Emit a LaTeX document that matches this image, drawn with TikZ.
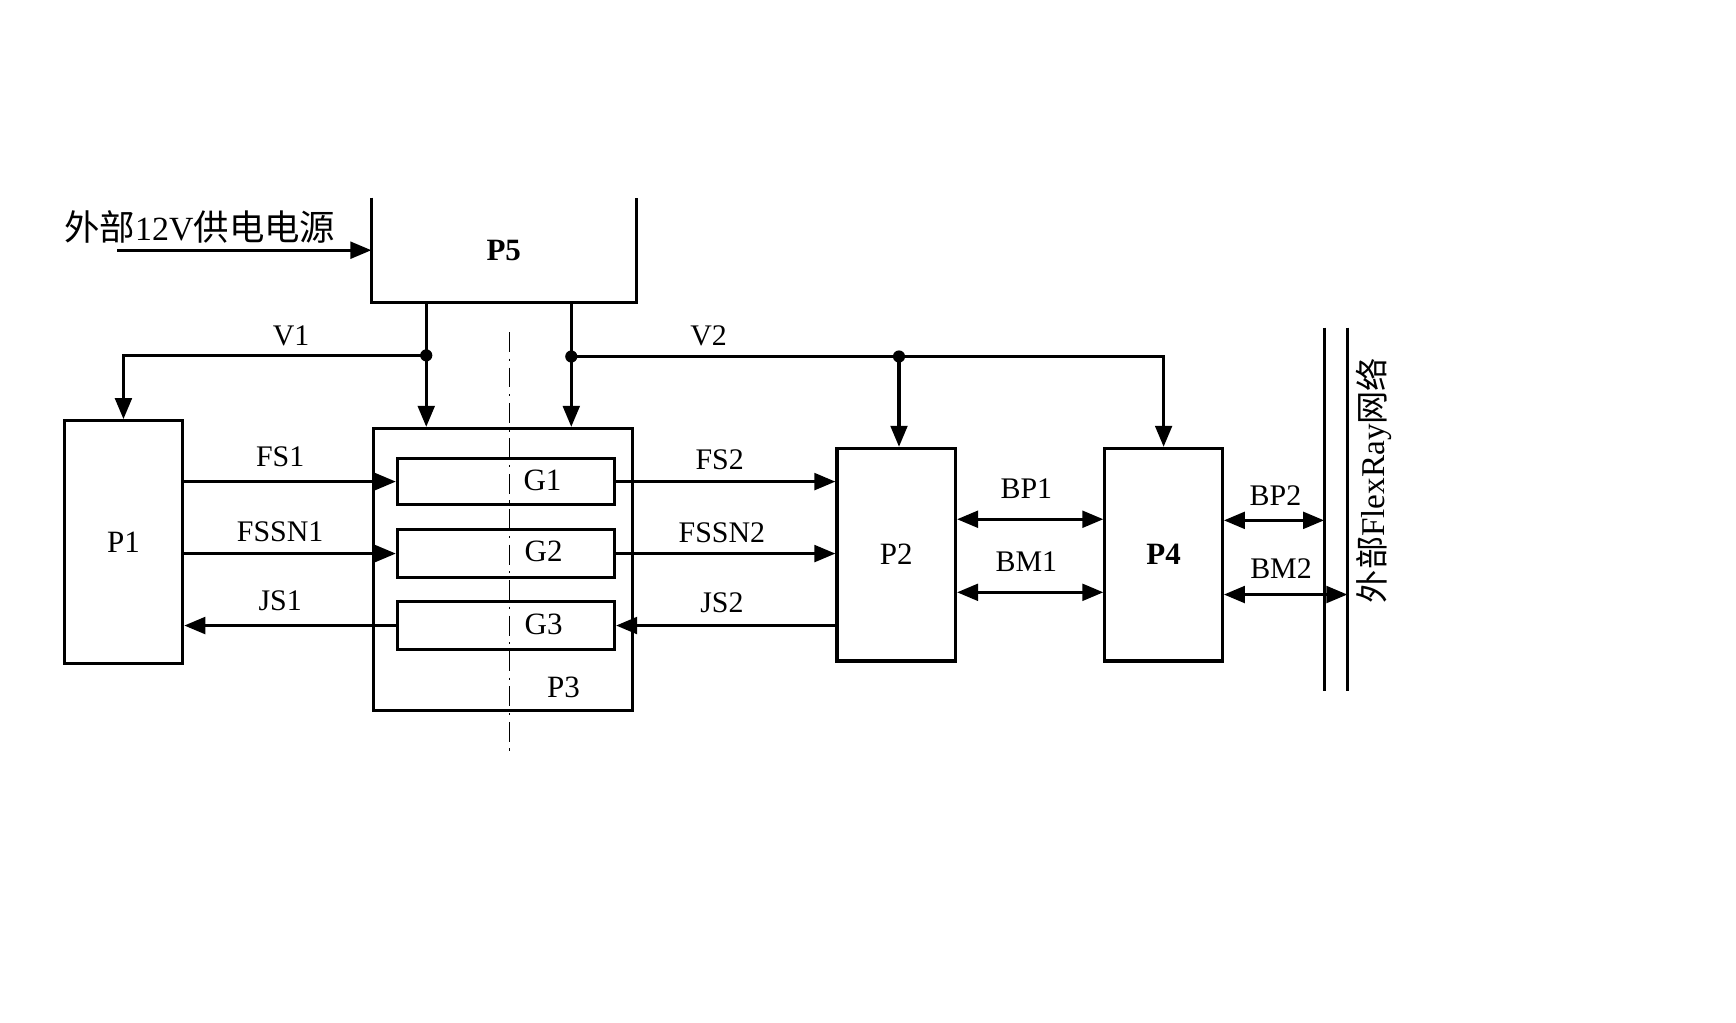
\documentclass[tikz,border=0pt]{standalone}
\usepackage{fontspec}
\setmainfont{Liberation Serif}
\newfontfamily\cjk{Noto Sans CJK SC}
\usetikzlibrary{arrows.meta}
\begin{document}
\begin{tikzpicture}[x=0.5pt,y=-0.5pt,
  line width=1.5pt,
  box/.style={draw, line width=1.4pt, inner sep=0pt, font=\fontsize{14}{16}\selectfont},
  arr/.style={-{Triangle[length=9.5pt,width=7.5pt]}},
  dbl/.style={{Triangle[length=9.5pt,width=7.5pt]}-{Triangle[length=9.5pt,width=7.5pt]}},
  lbl/.style={font=\fontsize{13.5}{16}\selectfont, inner sep=1pt},
  blbl/.style={font=\fontsize{14}{16}\selectfont, inner sep=1pt},
  jdot/.style={circle, fill, inner sep=0pt, minimum size=5.5pt},
  axis/.style={line width=0.6pt, dash pattern=on 9pt off 3pt on 1pt off 3pt}]
\path[fill=white, use as bounding box] (0,0) rectangle (1568,924);

% blocks
\node[box, minimum width=53.5pt, minimum height=109.5pt] (p1) at (111.5,489.5) {P1};
\node[box, minimum width=117pt, minimum height=127.5pt] (p3) at (454,514.5) {};
\node[blbl] (p3t) at (509,621) {P3};
\node[box, minimum width=98pt, minimum height=21pt] (g1) at (457,435) {};
\node[box, minimum width=98pt, minimum height=22pt] (g2) at (457,500) {};
\node[box, minimum width=98pt, minimum height=22pt] (g3) at (457,565) {};
\node[blbl] (g1t) at (490,434) {G1};
\node[blbl] (g2t) at (491,498) {G2};
\node[blbl] (g3t) at (491,564) {G3};
\node[box, minimum width=53.5pt, minimum height=96pt] (p2) at (809.5,501) {P2};
\node[box, minimum width=53pt, minimum height=96pt] (p4) at (1051,501) {\bfseries P4};
\node[inner sep=0pt, minimum width=118pt, minimum height=46pt, font=\fontsize{14}{16}\selectfont\bfseries] (p5) at (455,226) {P5};
\draw[line width=1.4pt] (p5.north west) -- (p5.south west) -- (p5.south east) -- (p5.north east);

% symmetry axis
\coordinate (axt) at (460,300);
\coordinate (axb) at (460,683);
\draw[axis] (axt) -- (axb);

% power input
\node[inner sep=0pt] (pwr) at (180.5,205) {\fontsize{16}{20}\selectfont\cjk 外部{\fontspec{Liberation Serif}\fontsize{15.3}{20}\selectfont 12V}供电电源};
\coordinate (pin) at (106,226);
\draw[arr] (pin) -- (p5.west);

% power distribution
\coordinate (j1) at (385,321);
\coordinate (j2) at (516,322);
\coordinate (j3) at (812,322);
\draw[arr] (p5.south -| j1) -- (j1 |- p3.north);
\draw[arr] (p5.south -| j2) -- (j2 |- p3.north);
\draw[arr] (j1) -| (p1.north);
\draw (j2) -- (j3);
\draw[arr] (j3) -| (p4.north);
\draw[arr] (j3) -- (j3 |- p2.north);
\node[jdot] (d1) at (j1) {};
\node[jdot] (d2) at (j2) {};
\node[jdot] (d3) at (j3) {};
\node[lbl] (v1) at (263,303) {V1};
\node[lbl] (v2) at (640,303) {V2};

% signals P1 <-> P3
\draw[arr] (p1.east |- g1) -- (g1.west);
\draw[arr] (p1.east |- g2) -- (g2.west);
\draw[arr] (g3.west) -- (p1.east |- g3);
\node[lbl] (fs1) at (253,413) {FS1};
\node[lbl] (fssn1) at (253,480) {FSSN1};
\node[lbl] (js1) at (253,543) {JS1};

% signals P3 <-> P2
\draw[arr] (g1.east) -- (p2.west |- g1);
\draw[arr] (g2.east) -- (p2.west |- g2);
\draw[arr] (p2.west |- g3) -- (g3.east);
\node[lbl] (fs2) at (650,415) {FS2};
\node[lbl] (fssn2) at (652,481) {FSSN2};
\node[lbl] (js2) at (652,544) {JS2};

% P2 <-> P4
\draw[dbl] ([yshift=16pt]p2.east) -- ([yshift=16pt]p4.west);
\draw[dbl] ([yshift=-17pt]p2.east) -- ([yshift=-17pt]p4.west);
\node[lbl] (bp1) at (927,441) {BP1};
\node[lbl] (bm1) at (927,507) {BM1};

% FlexRay bus
\coordinate (b1t) at (1196,296);
\coordinate (b1b) at (1196,624);
\coordinate (b2t) at (1217,296);
\coordinate (b2b) at (1217,624);
\draw (b1t) -- (b1b);
\draw (b2t) -- (b2b);
\coordinate (bp2c) at ([yshift=15.5pt]p4.east);
\coordinate (bm2c) at ([yshift=-18pt]p4.east);
\draw[dbl] (bp2c) -- (bp2c -| b1t);
\draw[dbl] (bm2c) -- (bm2c -| b2t);
\node[lbl] (bp2) at (1152,448) {BP2};
\node[lbl] (bm2) at (1157,514) {BM2};
\node[rotate=90, inner sep=0pt] (net) at (1241,434) {\fontsize{15}{18}\selectfont{\cjk 外部}FlexRay{\cjk 网络}};
\end{tikzpicture}
\end{document}
